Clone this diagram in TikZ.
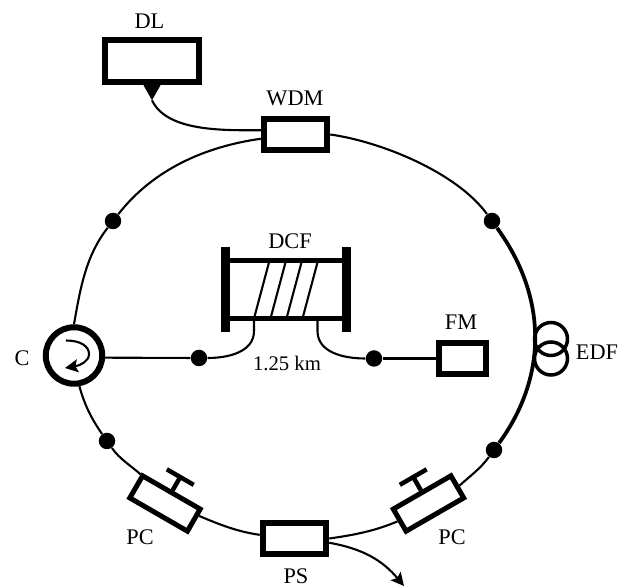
\documentclass[tikz,border=0pt]{standalone}
\usepackage{fontspec}
\setmainfont{Liberation Serif}
\usetikzlibrary{arrows.meta,calc}
\tikzset{
    boxnode/.style={draw, fill=white, line width=0.12cm, inner sep=0pt},
    pcbox/.style={draw, fill=white, line width=0.10cm, inner sep=0pt, minimum width=1.33cm, minimum height=0.51cm},
    dotnode/.style={circle, fill=black, inner sep=0pt, minimum size=0.33cm},
    loopnode/.style={circle, draw, line width=0.07cm, inner sep=0pt, minimum size=0.66cm},
    barnode/.style={fill=black, inner sep=0pt, minimum width=0.18cm, minimum height=1.70cm},
    lbl/.style={inner sep=0pt, font=\fontsize{12.7}{15}\selectfont},
    fibre/.style={line width=0.042cm},
    knob/.style={line width=0.09cm}
}
\begin{document}
\begin{tikzpicture}[>={Stealth[length=0.26cm,width=0.26cm,inset=0.05cm]}]
        \useasboundingbox (0, 0) rectangle (12.58, 11.72);

        % Components
        \node[boxnode, minimum width=1.89cm, minimum height=0.85cm] (dl) at (3.04, 10.50) {};
        \node[boxnode, minimum width=1.27cm, minimum height=0.63cm] (wdm) at (5.91, 9.03) {};
        \node[boxnode, minimum width=1.27cm, minimum height=0.63cm] (ps) at (5.89, 0.95) {};
        \node[boxnode, minimum width=0.93cm, minimum height=0.63cm] (fm) at (9.25, 4.55) {};
        \node[boxnode, circle, minimum size=1.13cm] (circ) at (1.48, 4.61) {};
        \node[pcbox, rotate=-30] (pcl) at (3.30, 1.65) {};
        \node[pcbox, rotate=30] (pcr) at (8.57, 1.65) {};
        \node[loopnode] (edfa) at (11.02, 4.94) {};
        \node[loopnode] (edfb) at (11.02, 4.55) {};

        % Splice points
        \node[dotnode] (dtl) at (2.26, 7.30) {};
        \node[dotnode] (dtr) at (9.84, 7.30) {};
        \node[dotnode] (dbl) at (2.14, 2.90) {};
        \node[dotnode] (dbr) at (9.88, 2.72) {};
        \node[dotnode] (dcl) at (3.98, 4.56) {};
        \node[dotnode] (dcr) at (7.48, 4.55) {};

        % Ring
        \draw[fibre] (wdm.187) to[out=188, in=52, looseness=0.9] (dtl);
        \draw[fibre] (dtl) to[out=232, in=80, looseness=0.9] (circ.north);
        \draw[fibre] (circ.-80) to[out=285, in=125, looseness=0.9] (dbl);
        \draw[fibre] (dbl) to[out=305, in=138, looseness=0.9] (pcl.160);
        \draw[fibre] (pcl.10) to[out=-23, in=172, looseness=0.9] (ps.174);
        \draw[fibre] (ps.east) to[out=8, in=203, looseness=0.9] (pcr.west);
        \draw[fibre] (pcr.east) to[out=42, in=234, looseness=0.9] (dbr);
        \draw[line width=0.075cm] (dbr) to[out=54, in=306] (dtr);
        \draw[fibre] (dtr) to[out=126, in=352, looseness=0.75] (wdm.east);

        % Pump input
        \fill ([xshift=-0.17cm]dl.south) -- ([xshift=0.17cm]dl.south) -- ++(-0.17, -0.30) coordinate (dltip) -- cycle;
        \draw[fibre] (dltip) to[out=-65, in=180, looseness=0.8] (wdm.173);

        % Output
        \coordinate (psout) at (8.08, 0.0);
        \draw[fibre, ->] (ps.-7) to[out=-10, in=130] (psout);

        % Polarization controller knobs
        \draw[knob] (pcl.north) -- ($(pcl.center)!2!(pcl.north)$) coordinate (pclknob);
        \draw[knob] (pclknob) ++(-30:0.31) -- ++(150:0.62);
        \draw[knob] (pcr.north) -- ($(pcr.center)!2!(pcr.north)$) coordinate (pcrknob);
        \draw[knob] (pcrknob) ++(30:0.31) -- ++(210:0.62);

        % Circulator arrow
        \draw[fibre, ->] ([shift={(-0.16, 0.30)}]circ.center) .. controls ([shift={(0.14, 0.30)}]circ.center) and ([shift={(0.30, 0.18)}]circ.center) .. ([shift={(0.30, 0.03)}]circ.center) .. controls ([shift={(0.30, -0.12)}]circ.center) and ([shift={(0.12, -0.20)}]circ.center) .. ([shift={(-0.18, -0.25)}]circ.center);

        % DCF spool
        \node[barnode] (dcfl) at (4.51, 5.93) {};
        \node[barnode] (dcfr) at (6.93, 5.93) {};
        \draw[line width=0.10cm] ([yshift=0.58cm]dcfl.center) -- ([yshift=0.58cm]dcfr.center);
        \draw[line width=0.10cm] ([yshift=-0.58cm]dcfl.center) -- ([yshift=-0.58cm]dcfr.center);
        \foreach \sx in {5.08, 5.41, 5.73, 6.05} {
            \draw[fibre] (\sx, 5.35) -- ++(0.31, 1.16);
        }
        \coordinate (leadl) at (5.08, 5.30);
        \coordinate (leadr) at (6.35, 5.30);
        \draw[fibre] (leadl) -- ++(0, -0.2) to[out=-90, in=0] (dcl);
        \draw[fibre] (leadr) -- ++(0, -0.2) to[out=-90, in=180] (dcr);
        \draw[fibre] (circ.-4) -- (dcl);
        \draw[fibre] (dcr) -- (fm.west);

        % Labels
        \node[lbl] (txtdl) at (2.99, 11.29) {DL};
        \node[lbl] (txtwdm) at (5.90, 9.75) {WDM};
        \node[lbl] (txtdcf) at (5.80, 6.90) {DCF};
        \node[lbl, font=\fontsize{11.8}{14}\selectfont] (txtkm) at (5.74, 4.46) {1.25 km};
        \node[lbl] (txtfm) at (9.22, 5.28) {FM};
        \node[lbl] (txtc) at (0.44, 4.56) {C};
        \node[lbl] (txtedf) at (11.94, 4.68) {EDF};
        \node[lbl] (txtpcl) at (2.80, 0.98) {PC};
        \node[lbl] (txtpcr) at (9.04, 0.98) {PC};
        \node[lbl] (txtps) at (5.92, 0.20) {PS};
    \end{tikzpicture}
\end{document}
